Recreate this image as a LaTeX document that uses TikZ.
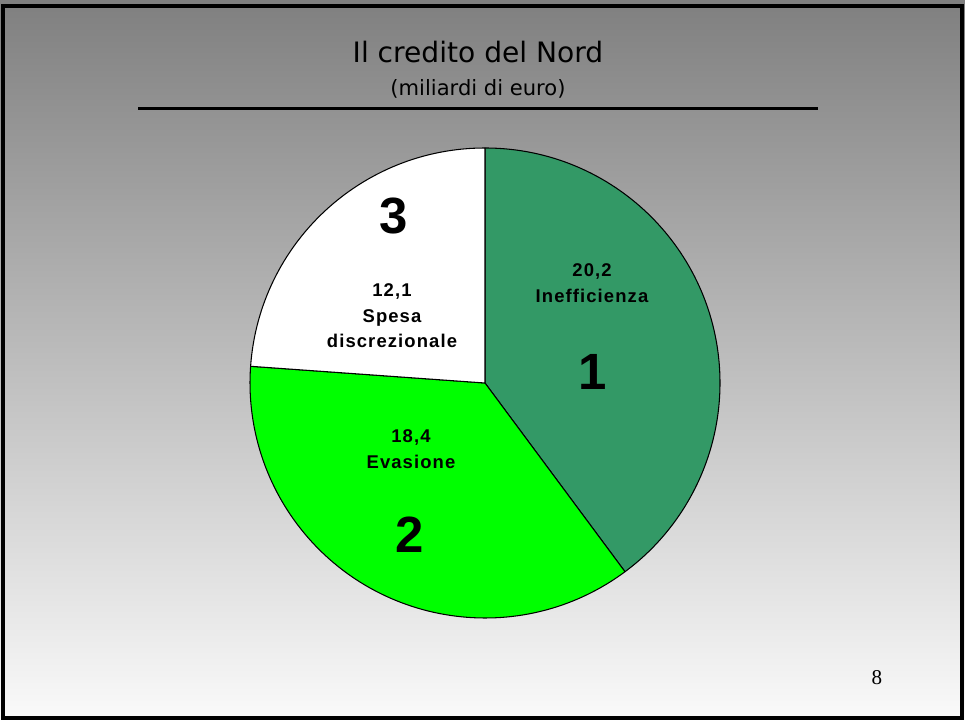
\documentclass[tikz,border=0pt]{standalone}
\usepackage{fontspec}
\setmainfont{Liberation Serif}
\newfontfamily\titlefont{DejaVu Sans}
\newfontfamily\labelfont{Liberation Sans}
\usetikzlibrary{positioning}
\definecolor{darkgreen}{RGB}{51, 153, 102}
\definecolor{brightgreen}{RGB}{0, 255, 0}

\begin{document}
\begin{tikzpicture}[x=0.02cm, y=0.02cm,
        slice/.style={draw=black, line width=0.6pt, line join=round},
        bignum/.style={font=\labelfont\fontsize{29}{34}\bfseries\selectfont, inner sep=0pt},
        label/.style={font=\labelfont\fontsize{10.5}{14.5}\bfseries\addfontfeature{LetterSpace=6}\selectfont, align=center, inner sep=0pt}
    ]
        % background
        \shade[top color=black!50, bottom color=black!2] (0,0) rectangle (965,720);
        \draw[line width=1.8pt] (3,2) rectangle (962,714);
        \useasboundingbox (0,0) rectangle (965,720);

        % title
        \node[font=\titlefont\fontsize{16}{19}\selectfont, anchor=base, inner sep=0pt] (title) at (478,657) {Il credito del Nord};
        \node[font=\titlefont\fontsize{12}{14}\selectfont, anchor=base, inner sep=0pt] (subtitle) at (478,624) {(miliardi di euro)};
        \coordinate (ruleL) at (138,611);
        \coordinate (ruleR) at (818,611);
        \draw[line width=1.7pt] (ruleL) -- (ruleR);

        % pie
        \coordinate (pie) at (485,337);
        \draw[slice, fill=darkgreen] (pie) -- ++(90:235) arc[start angle=90, end angle=-53.43, radius=235] -- cycle;
        \draw[slice, fill=brightgreen] (pie) -- ++(-53.43:235) arc[start angle=-53.43, end angle=-184.08, radius=235] -- cycle;
        \draw[slice, fill=white] (pie) -- ++(-184.08:235) arc[start angle=-184.08, end angle=-270, radius=235] -- cycle;

        % slice labels
        \node[bignum] (n1) at (593,348) {1};
        \node[bignum] (n2) at (410,185) {2};
        \node[bignum] (n3) at (394,504) {3};
        \node[label] (ineff) at (592,437) {20,2\\Inefficienza};
        \node[label] (evas) at (411,271) {18,4\\Evasione};
        \node[label] (spesa) at (392,404) {12,1\\Spesa\\discrezionale};

        \node[font=\fontsize{12}{14}\selectfont, inner sep=0pt] (page) at (877,42) {8};
    \end{tikzpicture}
\end{document}
